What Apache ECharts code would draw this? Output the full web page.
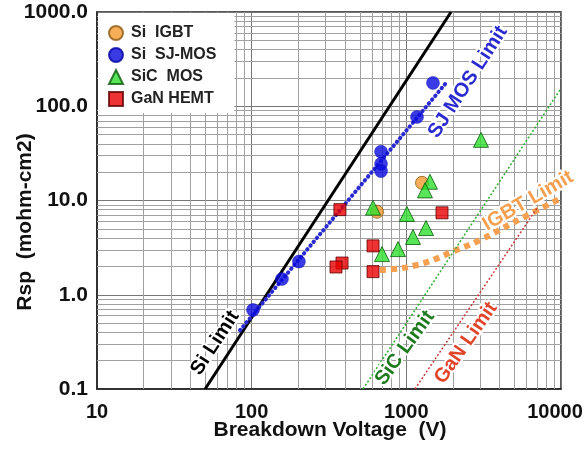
<!DOCTYPE html>
<html><head><meta charset="utf-8">
<script src="https://cdn.jsdelivr.net/npm/echarts@6/dist/echarts.min.js"></script>
<style>html,body{margin:0;padding:0;background:#fff}#c{width:588px;height:450px}</style>
</head><body><div id="c"></div>
<script>
// ---- data ----
const xTicks = [10, 100, 1000, 10000];
const yTicks = [0.1, 1, 10, 100, 1000];
const seriesNames = ['Si  IGBT', 'Si  SJ-MOS', 'SiC  MOS', 'GaN HEMT'];
const siIGBT = [[646, 7.6], [1263, 15.4]];
const siSJMOS = [[102, 0.69], [157, 1.47], [202, 2.25], [686, 33], [686, 24.5], [686, 20.5], [1172, 77], [1487, 177]];
const sicMOS = [[609, 8.4], [1422, 15.8], [1320, 12.8], [1009, 7.2], [1340, 5.1], [1104, 4.1], [883, 3.05], [696, 2.7], [3040, 44]];
const ganHEMT = [[372, 8.0], [1701, 7.4], [609, 3.3], [384, 2.17], [351, 1.97], [609, 1.76]];
const siLimit = [[50, 0.1], [1945, 1000]];
const sjLimit = [[84, 0.42], [1832, 182]];
const igbtLimit = [[676, 1.83], [900, 1.9], [1172, 2.07], [1500, 2.35], [1973, 2.85], [2993, 3.8], [4894, 5.8], [10000, 10.6]];
const sicLimit = [[525, 0.1], [9847, 149]];
const ganLimit = [[1137, 0.1], [6998, 8.3]];
const lineLabels = ['Si Limit', 'SJ MOS Limit', 'IGBT Limit', 'SiC Limit', 'GaN Limit'];

// ---- chart ----
const font = '"Liberation Sans", Arial, Helvetica, sans-serif';
function minorVals(decades) {
  const out = [];
  decades.forEach(d => { for (let k = 2; k <= 9; k++) out.push(+(k * d).toPrecision(4)); });
  return out;
}
const xMinor = minorVals([10, 100, 1000]);
const yMinor = minorVals([0.1, 1, 10, 100]);
const gridLines = xMinor.map(v => ({ xAxis: v })).concat(yMinor.map(v => ({ yAxis: v })));

const chart = echarts.init(document.getElementById('c'));
const axisCommon = {
  type: 'log', logBase: 10,
  axisLine: { show: true, lineStyle: { color: '#222', width: 1.5 } },
  axisTick: { show: false },
  splitLine: { show: true, lineStyle: { color: '#777', width: 1 } },
  minorTick: { show: false },
};
const xMax = xTicks[xTicks.length - 1];
chart.setOption({
  animation: false,
  backgroundColor: '#fff',
  grid: { left: 97, right: 27, top: 12, bottom: 61, show: true, borderColor: '#222', borderWidth: 1.5, containLabel: false, outerBoundsMode: 'none' },
  xAxis: Object.assign({}, axisCommon, {
    min: xTicks[0], max: xMax,
    axisLabel: { fontFamily: font, fontSize: 20, fontWeight: 'bold', color: '#111', margin: 13,
      formatter: v => Math.round(v) === xMax ? '{r|' + Math.round(v) + '}' : String(Math.round(v)),
      rich: { r: { fontFamily: font, fontSize: 20, fontWeight: 'bold', color: '#111', padding: [0, 12, 0, 0] } } }
  }),
  yAxis: Object.assign({}, axisCommon, {
    min: yTicks[0], max: yTicks[yTicks.length - 1],
    axisLabel: { fontFamily: font, fontSize: 21, fontWeight: 'bold', color: '#111', margin: 9,
      formatter: v => Number(v).toFixed(1) }
  }),
  legend: {
    data: seriesNames, orient: 'vertical', left: 98, top: 13, z: 50,
    backgroundColor: '#fff', padding: [12, 18, 6, 10], itemGap: 6,
    itemWidth: 14, itemHeight: 14,
    textStyle: { fontFamily: font, fontSize: 16, fontWeight: 'bold', color: '#222', lineHeight: 16, padding: [0, 0, 0, 3] }
  },
  series: [
    { name: 'grid', type: 'line', data: [[10, 0.1]], showSymbol: false, silent: true, z: 1, lineStyle: { opacity: 0 },
      markLine: { silent: true, symbol: 'none', label: { show: false }, animation: false, z: 1,
        lineStyle: { color: '#a0a0a0', width: 1, type: 'solid' }, data: gridLines } },
    { name: 'siLimit', type: 'line', data: siLimit, showSymbol: false, z: 3, lineStyle: { color: '#000', width: 3 } },
    { name: 'sjLimit', type: 'line', data: sjLimit, showSymbol: false, z: 3, lineStyle: { color: '#2a2ad0', width: 4, type: [0.5, 4.5], cap: 'round' } },
    { name: 'igbtLimit', type: 'line', data: igbtLimit, smooth: 0.4, showSymbol: false, z: 3, lineStyle: { color: '#f5a050', width: 6, type: [6, 5] } },
    { name: 'sicLimit', type: 'line', data: sicLimit, showSymbol: false, z: 3, lineStyle: { color: '#2fb02f', width: 1.5, type: [2, 2] } },
    { name: 'ganLimit', type: 'line', data: ganLimit, showSymbol: false, z: 3, lineStyle: { color: '#c83a3a', width: 1.5, type: [2, 2] } },
    { name: seriesNames[0], type: 'scatter', data: siIGBT, symbol: 'circle', symbolSize: 13, z: 5,
      itemStyle: { color: '#f59a30', borderColor: '#8a5a10', borderWidth: 1 } },
    { name: seriesNames[1], type: 'scatter', data: siSJMOS, symbol: 'circle', symbolSize: 13, z: 5,
      itemStyle: { color: '#0a0ae0', borderColor: '#0000a0', borderWidth: 0.5 } },
    { name: seriesNames[2], type: 'scatter', data: sicMOS, symbol: 'triangle', symbolSize: 15, z: 5,
      itemStyle: { color: '#2ee02e', borderColor: '#0a5a0a', borderWidth: 1 } },
    { name: seriesNames[3], type: 'scatter', data: ganHEMT, symbol: 'rect', symbolSize: 12, z: 5,
      itemStyle: { color: '#e80000', borderColor: '#600000', borderWidth: 1 } }
  ],
  graphic: [
    { type: 'text', x: 25, y: 222, rotation: Math.PI / 2, z: 100,
      style: { text: 'Rsp  (mohm-cm2)', font: 'bold 21px ' + font, fill: '#111', align: 'center', verticalAlign: 'middle' } },
    { type: 'text', x: 330, y: 430, z: 100,
      style: { text: 'Breakdown Voltage  (V)', font: 'bold 21px ' + font, fill: '#111', align: 'center', verticalAlign: 'middle' } },
    { type: 'text', x: 215, y: 343, rotation: 57 * Math.PI / 180, z: 100,
      style: { text: lineLabels[0], font: 'bold 20px ' + font, fill: '#000', stroke: '#fff', lineWidth: 4, align: 'center', verticalAlign: 'middle' } },
    { type: 'text', x: 468, y: 82, rotation: 57 * Math.PI / 180, z: 100,
      style: { text: lineLabels[1], font: 'bold 20px ' + font, fill: '#2a2ad0', stroke: '#fff', lineWidth: 4, align: 'center', verticalAlign: 'middle' } },
    { type: 'text', x: 528, y: 201, rotation: 30 * Math.PI / 180, z: 100,
      style: { text: lineLabels[2], font: 'bold 20px ' + font, fill: '#f5a050', stroke: '#fff', lineWidth: 4, align: 'center', verticalAlign: 'middle' } },
    { type: 'text', x: 405, y: 348, rotation: 54 * Math.PI / 180, z: 100,
      style: { text: lineLabels[3], font: 'bold 20px ' + font, fill: '#1f7a1f', stroke: '#fff', lineWidth: 4, align: 'center', verticalAlign: 'middle' } },
    { type: 'text', x: 466, y: 343, rotation: 55 * Math.PI / 180, z: 100,
      style: { text: lineLabels[4], font: 'bold 20px ' + font, fill: '#e0452a', stroke: '#fff', lineWidth: 4, align: 'center', verticalAlign: 'middle' } }
  ]
});
</script>
</body></html>
